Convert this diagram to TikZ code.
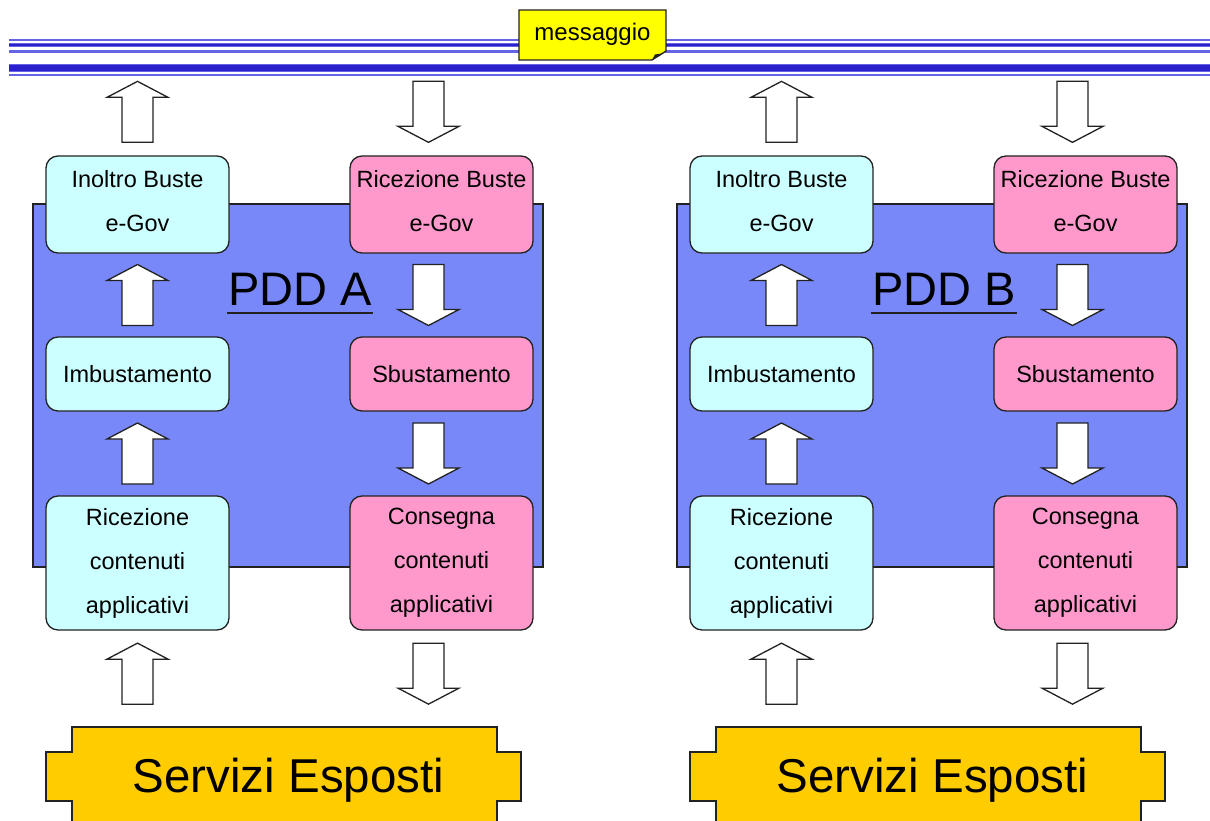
\documentclass[tikz,border=0pt]{standalone}
\usepackage{fontspec}
\setmainfont{Liberation Sans}
\usetikzlibrary{calc}
\definecolor{cyanbox}{HTML}{CCFFFF}
\definecolor{pinkbox}{HTML}{FF99CC}
\definecolor{panelblue}{HTML}{7888F8}
\definecolor{servcol}{HTML}{FFCC00}
\definecolor{msgcol}{HTML}{FFFF00}
\definecolor{busdark}{HTML}{2A20CC}
\definecolor{buslight}{HTML}{6464E4}
\definecolor{edgec}{HTML}{222222}
\tikzset{
 boxbase/.style={draw=edgec, line width=1.3pt, rounded corners=12pt, minimum width=183pt, align=center, inner sep=0pt, font=\fontsize{23.5}{44}\selectfont},
 cbox/.style={boxbase, fill=cyanbox},
 pbox/.style={boxbase, fill=pinkbox},
 panelbox/.style={draw=edgec, line width=1.3pt, fill=panelblue, minimum width=510pt, minimum height=363pt, inner sep=0pt},
 arrline/.style={draw=edgec, line width=1.3pt, fill=white, line join=miter},
 uparr/.pic={\path[arrline] (-15.5,30.5) -- (-15.5,-14.5) -- (-30.5,-14.5) -- (0,-30.5) -- (30.5,-14.5) -- (15.5,-14.5) -- (15.5,30.5) -- cycle;},
 downarr/.pic={\path[arrline] (-15.5,-30.5) -- (-15.5,14.5) -- (-30.5,14.5) -- (0,30.5) -- (30.5,14.5) -- (15.5,14.5) -- (15.5,-30.5) -- cycle;},
 pddlabel/.style={font=\fontsize{47}{47}\selectfont, inner sep=0pt, anchor=base},
 servlabel/.style={font=\fontsize{47.5}{47.5}\selectfont, inner sep=0pt, anchor=base},
 servshape/.style={draw=edgec, line width=1.3pt, fill=servcol},
 msgshape/.style={draw=edgec, line width=1.3pt, fill=msgcol},
}
\newcommand\lowpad{\rule[-8pt]{0pt}{0pt}}
\newcommand\pddpanel[3]{%
\begin{scope}[xshift=#2]
\node[panelbox] (panel#1) at (288,385.5) {};
\node[cbox, minimum height=97pt] (in#1) at (137.5,204.5) {Inoltro Buste\\e-Gov\lowpad};
\node[pbox, minimum height=97pt] (rb#1) at (441.5,204.5) {Ricezione Buste\\e-Gov\lowpad};
\node[cbox, minimum height=74pt] (imb#1) at (137.5,374) {Imbustamento};
\node[pbox, minimum height=74pt] (sb#1) at (441.5,374) {Sbustamento};
\node[cbox, minimum height=134pt] (ric#1) at (137.5,563) {Ricezione\\contenuti\\applicativi};
\node[pbox, minimum height=134pt] (con#1) at (441.5,563) {Consegna\\contenuti\\applicativi};
\node[pddlabel] (pdd#1) at (300,305) {#3};
\draw[line width=2.5pt, edgec] (227,313) -- (373,313);
\path[servshape] (72,727) -- (497,727) -- (497,752) -- (521,752) -- (521,801) -- (497,801) -- (497,840) -- (72,840) -- (72,801) -- (46,801) -- (46,752) -- (72,752) -- cycle;
\node[servlabel] (serv#1) at (288.5,792) {Servizi Esposti};
\end{scope}
\pic at ($(in#1.north)+(0,-43.5)$) {uparr};
\pic at ($(imb#1.north)!0.5!(in#1.south)$) {uparr};
\pic at ($(ric#1.north)!0.5!(imb#1.south)$) {uparr};
\pic at ($(ric#1.south)+(0,43)$) {uparr};
\pic at ($(rb#1.north)+(-13,-43.5)$) {downarr};
\pic at ($(sb#1.north)!0.5!(rb#1.south)+(-13,0)$) {downarr};
\pic at ($(con#1.north)!0.5!(sb#1.south)+(-13,0)$) {downarr};
\pic at ($(con#1.south)+(-13,43)$) {downarr};
}
\begin{document}
\begin{tikzpicture}[x=1pt,y=-1pt]
\useasboundingbox (0,0) rectangle (1210,821);
\clip (0,0) rectangle (1210,821);
\fill[white] (0,0) rectangle (1210,821);
% bus
\coordinate (busL) at (9,0);
\coordinate (busR) at (1210,0);
\draw[buslight, line width=1.6pt] ([yshift=-40pt]busL) -- ([yshift=-40pt]busR);
\draw[buslight, line width=4.2pt] ([yshift=-44.8pt]busL) -- ([yshift=-44.8pt]busR);
\draw[busdark, line width=2.4pt] ([yshift=-44.8pt]busL) -- ([yshift=-44.8pt]busR);
\draw[buslight, line width=2.2pt] ([yshift=-51.5pt]busL) -- ([yshift=-51.5pt]busR);
\draw[buslight, line width=8pt] ([yshift=-68pt]busL) -- ([yshift=-68pt]busR);
\draw[busdark, line width=6.2pt] ([yshift=-68pt]busL) -- ([yshift=-68pt]busR);
\draw[buslight, line width=2pt] ([yshift=-74.8pt]busL) -- ([yshift=-74.8pt]busR);
% messaggio
\path[msgshape] (519,10) -- (666,10) -- (666,51) -- (660,55) -- (655,58) -- (652,60) -- (519,60) -- cycle;
\fill[edgec] (652,60) -- (655,54.5) -- (662,53.5) -- (659,56) -- cycle;
\node[font=\fontsize{24}{24}\selectfont, inner sep=0pt] (msg) at (592.5,34.5) {messaggio};
\pddpanel{A}{0}{PDD A}
\pddpanel{B}{644}{PDD B}
\end{tikzpicture}
\end{document}
